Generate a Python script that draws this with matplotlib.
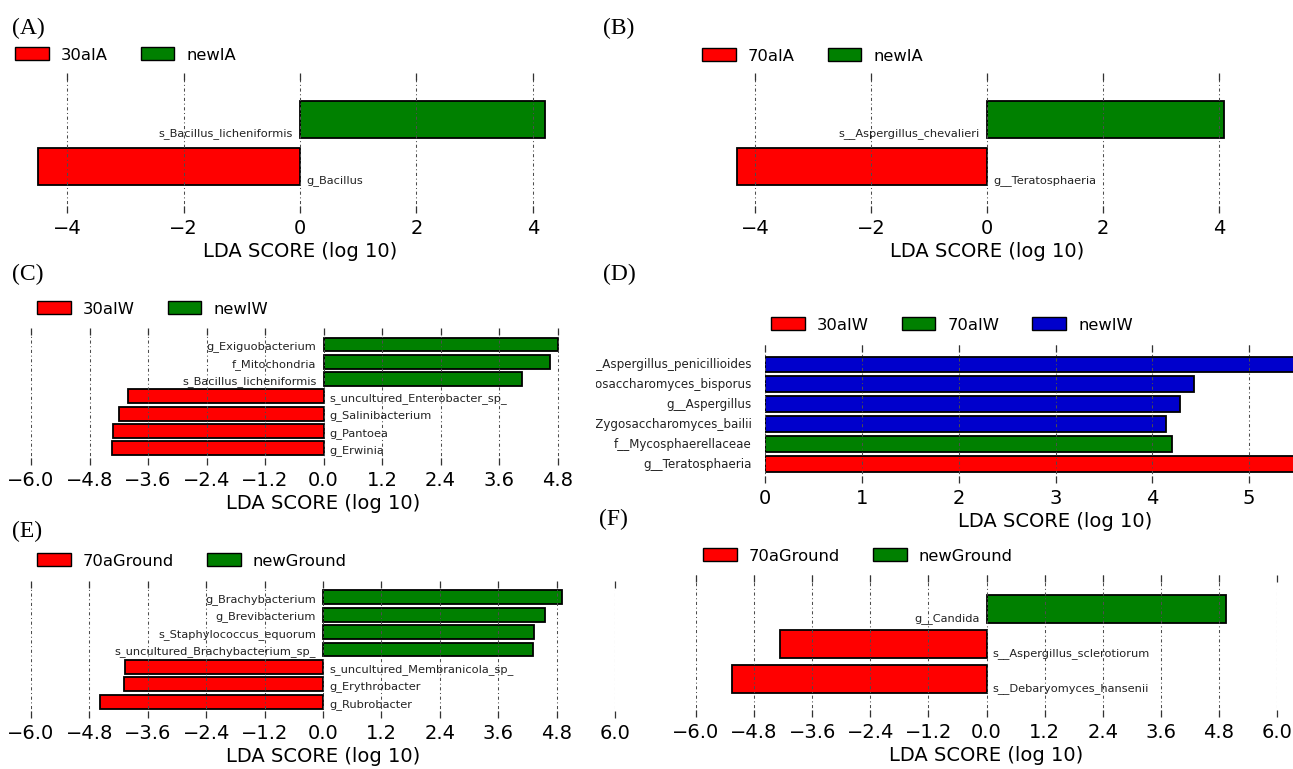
""" Six LEfSe LDA score panels (A-F) """

import matplotlib
matplotlib.use('Agg')
import matplotlib.pyplot as plt
import matplotlib.transforms as mtransforms
from matplotlib.patches import Patch

W, H = 1293, 769

# ---- data (top bar first) ----
a_classes = ['30aIA', 'newIA']
a_names = ['s_Bacillus_licheniformis', 'g_Bacillus']
a_scores = [4.2, -4.5]
a_groups = ['newIA', '30aIA']

b_classes = ['70aIA', 'newIA']
b_names = ['s__Aspergillus_chevalieri', 'g__Teratosphaeria']
b_scores = [4.09, -4.32]
b_groups = ['newIA', '70aIA']

c_classes = ['30aIW', 'newIW']
c_names = ['g_Exiguobacterium', 'f_Mitochondria', 's_Bacillus_licheniformis',
           's_uncultured_Enterobacter_sp_', 'g_Salinibacterium', 'g_Pantoea',
           'g_Erwinia']
c_scores = [4.82, 4.65, 4.07, -4.01, -4.2, -4.32, -4.33]
c_groups = ['newIW', 'newIW', 'newIW', '30aIW', '30aIW', '30aIW', '30aIW']

d_classes = ['30aIW', '70aIW', 'newIW']
d_names = ['s__Aspergillus_penicillioides', 's__Zygosaccharomyces_bisporus',
           'g__Aspergillus', 's__Zygosaccharomyces_bailii',
           'f__Mycosphaerellaceae', 'g__Teratosphaeria']
d_scores = [5.8, 4.43, 4.29, 4.14, 4.2, 5.8]
d_groups = ['newIW', 'newIW', 'newIW', 'newIW', '70aIW', '30aIW']

e_classes = ['70aGround', 'newGround']
e_names = ['g_Brachybacterium', 'g_Brevibacterium', 's_Staphylococcus_equorum',
           's_uncultured_Brachybacterium_sp_', 's_uncultured_Membranicola_sp_',
           'g_Erythrobacter', 'g_Rubrobacter']
e_scores = [4.92, 4.56, 4.33, 4.32, -4.07, -4.08, -4.59]
e_groups = ['newGround'] * 4 + ['70aGround'] * 3

f_classes = ['70aGround', 'newGround']
f_names = ['g__Candida', 's__Aspergillus_sclerotiorum', 's__Debaryomyces_hansenii']
f_scores = [4.95, -4.27, -5.25]
f_groups = ['newGround', '70aGround', '70aGround']

ticks_ab = [-4, -2, 0, 2, 4]
ticks_c = [-6.0, -4.8, -3.6, -2.4, -1.2, 0.0, 1.2, 2.4, 3.6, 4.8]
ticks_ef = [-6.0, -4.8, -3.6, -2.4, -1.2, 0.0, 1.2, 2.4, 3.6, 4.8, 6.0]
ticks_d = [0, 1, 2, 3, 4, 5]

class_colors = ['#FF0000', '#008000', '#0000CC']

fig = plt.figure(figsize=(W / 100, H / 100), dpi=100)


def px_axes(left, top, right, bottom):
    return fig.add_axes([left / W, 1 - bottom / H, (right - left) / W,
                         (bottom - top) / H])


def draw_panel(letter, letter_xy, rect, xlim, ylim, xticks, names, scores,
               groups, classes, legend_xy, side_labels=False, clip_x=None):
    ax = px_axes(*rect)
    n = len(names)
    ys = [n - 1 - i for i in range(n)]
    cols = [class_colors[classes.index(g)] for g in groups]
    ax.barh(ys, scores, height=0.8, color=cols, edgecolor='black',
            linewidth=1.3, zorder=1)
    ax.set_xlim(*xlim)
    ax.set_ylim(*ylim)
    ax.set_xticks(xticks)
    ax.set_yticks([])
    for s in ax.spines.values():
        s.set_visible(False)
    ax.tick_params(axis='x', which='both', direction='in', top=True,
                   bottom=True, length=5, width=0.9, color='#333333',
                   labelsize=14, pad=4)
    ax.set_axisbelow(False)
    ax.grid(axis='x', linestyle=(0, (3, 2.5, 1, 2.5)), color='#4d4d4d',
            linewidth=0.75)
    ax.set_xlabel('LDA SCORE (log 10)', fontsize=14, labelpad=3)

    if side_labels:
        # left part of these labels is hidden under the neighbouring panel
        off = mtransforms.offset_copy(ax.transData, fig=fig, x=-13, y=0,
                                      units='dots')
        clip = mtransforms.TransformedBbox(
            mtransforms.Bbox([[clip_x / W, 0], [1, 1]]), fig.transFigure)
        for y, name in zip(ys, names):
            t = ax.text(0, y, name, ha='right', va='center', fontsize=8.6,
                        color='#222222', transform=off)
            t.set_clip_box(clip)
            t.set_clip_on(True)
    else:
        for y, name, v in zip(ys, names, scores):
            dx = -7 if v > 0 else 6
            off = mtransforms.offset_copy(ax.transData, fig=fig, x=dx, y=2,
                                          units='dots')
            ax.text(0, y - 0.4, name, ha='right' if v > 0 else 'left',
                    va='baseline', fontsize=8.2, color='#222222', transform=off)

    handles = [Patch(facecolor=class_colors[i], edgecolor='black', linewidth=1,
                     label=c) for i, c in enumerate(classes)]
    fig.legend(handles=handles, loc='center left',
               bbox_to_anchor=(legend_xy[0] / W, 1 - legend_xy[1] / H),
               bbox_transform=fig.transFigure, ncol=len(classes),
               frameon=False, fontsize=11.8, borderpad=0, borderaxespad=0,
               handlelength=2.05, handleheight=0.85, handletextpad=0.75,
               columnspacing=2.0)

    fig.text(letter_xy[0] / W, 1 - letter_xy[1] / H, letter, ha='left',
             va='center', fontsize=17, family='Liberation Serif')
    return ax


draw_panel('(A)', (12, 28), (35, 73, 565, 213), (-4.55, 4.55), (-1, 2),
           ticks_ab, a_names, a_scores, a_groups, a_classes, (15, 55))
draw_panel('(B)', (603, 28), (732, 73, 1242, 213), (-4.4, 4.4), (-1, 2),
           ticks_ab, b_names, b_scores, b_groups, b_classes, (702, 56))
draw_panel('(C)', (12, 274), (31, 328, 616, 465), (-6, 6), (-0.97, 6.95),
           ticks_c, c_names, c_scores, c_groups, c_classes, (37, 309))
draw_panel('(D)', (603, 274), (765, 345, 1346, 483), (0, 6), (-0.95, 5.98),
           ticks_d, d_names, d_scores, d_groups, d_classes, (771, 325),
           side_labels=True, clip_x=596)
draw_panel('(E)', (12, 531), (31, 581, 615, 718), (-6, 6), (-0.92, 6.92),
           ticks_ef, e_names, e_scores, e_groups, e_classes, (37, 561))
draw_panel('(F)', (599, 519), (696, 575, 1277, 717), (-6, 6), (-1.09, 2.97),
           ticks_ef, f_names, f_scores, f_groups, f_classes, (703, 556))

fig.savefig('out.png', dpi=100)
